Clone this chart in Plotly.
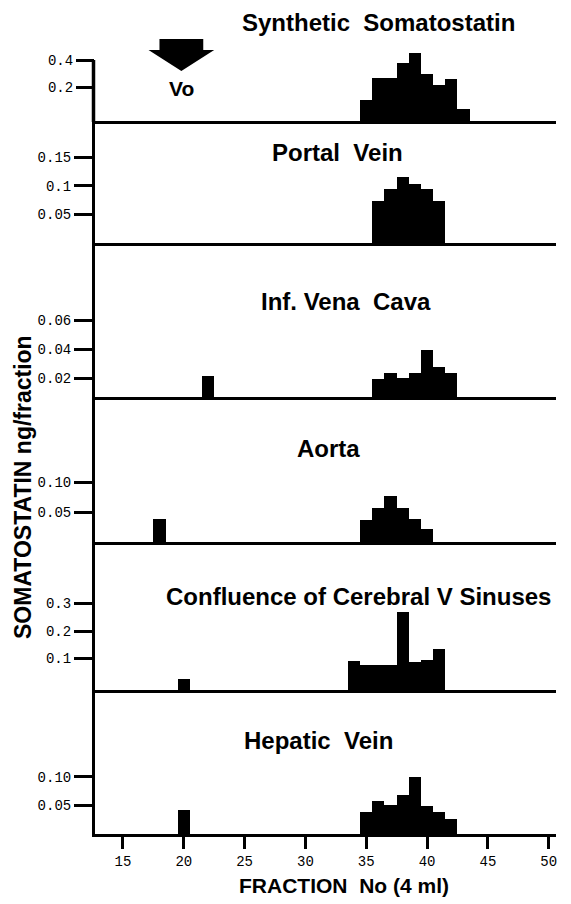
import plotly.graph_objects as go

# The page body adds an 8px margin; the figure is sized to fill the rest of the window.
OFF = 8
W, H = 571 - OFF, 904 - OFF
ML, MR = 95 - OFF, 15

# ---------------- data ----------------
panel_titles = ["Synthetic  Somatostatin", "Portal  Vein", "Inf. Vena  Cava", "Aorta",
                "Confluence of Cerebral V Sinuses", "Hepatic  Vein"]

synth_frac = [35, 36, 37, 38, 39, 40, 41, 42, 43]
synth_vals = [0.107, 0.27, 0.27, 0.38, 0.453, 0.297, 0.217, 0.261, 0.041]

portal_frac = [36, 37, 38, 39, 40, 41]
portal_vals = [0.073, 0.095, 0.115, 0.104, 0.094, 0.073]

ivc_frac = [22, 36, 37, 38, 39, 40, 41, 42]
ivc_vals = [0.0214, 0.0193, 0.0239, 0.0205, 0.0239, 0.0393, 0.0278, 0.0237]

aorta_frac = [18, 35, 36, 37, 38, 39, 40]
aorta_vals = [0.039, 0.037, 0.057, 0.077, 0.057, 0.038, 0.022]

conf_frac = [20, 34, 35, 36, 37, 38, 39, 40, 41]
conf_vals = [0.024, 0.092, 0.076, 0.076, 0.076, 0.27, 0.086, 0.095, 0.135]

hep_frac = [20, 35, 36, 37, 38, 39, 40, 41, 42]
hep_vals = [0.041, 0.038, 0.058, 0.050, 0.068, 0.099, 0.049, 0.037, 0.026]

ytick_vals = [[0.2, 0.4], [0.05, 0.1, 0.15], [0.02, 0.04, 0.06],
              [0.05, 0.10], [0.1, 0.2, 0.3], [0.05, 0.10]]
ytick_text = [["0.2", "0.4"], ["0.05", "0.1", "0.15"], ["0.02", "0.04", "0.06"],
              ["0.05", "0.10"], ["0.1", "0.2", "0.3"], ["0.05", "0.10"]]

xtick_vals = [15, 20, 25, 30, 35, 40, 45, 50]
vo_fraction = 19.8

x_title = "FRACTION  No (4 ml)"
y_title_main = "SOMATOSTATIN"
y_title_unit = "ng/fraction"

series = [(synth_frac, synth_vals), (portal_frac, portal_vals), (ivc_frac, ivc_vals),
          (aorta_frac, aorta_vals), (conf_frac, conf_vals), (hep_frac, hep_vals)]

# ---------------- layout geometry (reference pixel coords) ----------------
panel_px = [(48, 121), (121, 243), (243, 397), (397, 542), (542, 690), (690, 834)]
y_ranges = [(-0.047, 0.488), (0.0, 0.214), (0.0071, 0.1131),
            (0.0, 0.2417), (-0.0145, 0.5236), (-0.001, 0.253)]
x_range = [12.7, 50.6]
PLOT_W = W - ML - MR

def py(px):
    return 1 - (px - OFF) / H

def pxx(px):
    return (px - OFF - ML) / PLOT_W

fig = go.Figure()

for i, ((fr, vals), (ymin, ymax)) in enumerate(zip(series, y_ranges), start=1):
    fig.add_trace(go.Bar(
        x=fr, y=[v - ymin for v in vals], base=ymin, width=1.0,
        marker=dict(color="black", line=dict(width=0)),
        xaxis="x" if i == 1 else f"x{i}", yaxis="y" if i == 1 else f"y{i}",
        showlegend=False, hoverinfo="skip"))

layout = dict(
    width=W, height=H,
    margin=dict(l=ML, r=MR, t=0, b=0),
    paper_bgcolor="white", plot_bgcolor="white",
    bargap=0, showlegend=False,
)

tickfont = dict(family="Liberation Mono", size=14, color="black")
for i in range(1, 7):
    top, bot = panel_px[i - 1]
    xname = "x" if i == 1 else f"x{i}"
    yname = "y" if i == 1 else f"y{i}"
    layout["yaxis" if i == 1 else f"yaxis{i}"] = dict(
        domain=[py(bot), py(top)], range=list(y_ranges[i - 1]),
        tickvals=ytick_vals[i - 1], ticktext=ytick_text[i - 1],
        ticks="outside", ticklen=18, tickwidth=3, tickcolor="black",
        showline=(i > 1), linewidth=3, linecolor="black",
        showgrid=False, zeroline=False, tickfont=tickfont,
        anchor=xname, fixedrange=True)
    xa = dict(
        range=x_range, anchor=yname, showline=True, linewidth=3,
        linecolor="black", showgrid=False, zeroline=False, fixedrange=True)
    if i > 1:
        xa["matches"] = "x"
    if i == 6:
        xa.update(tickvals=xtick_vals, ticks="outside", ticklen=12, tickwidth=3,
                  tickcolor="black", showticklabels=True, tickfont=tickfont)
    else:
        xa.update(showticklabels=False, ticks="")
    layout["xaxis" if i == 1 else f"xaxis{i}"] = xa

fig.update_layout(**layout)

# top panel's vertical axis starts at its highest tick (0.4 sits at ~60px);
# shifted half a line width outward like Plotly's own axis lines
fig.add_shape(type="line", xref="paper", yref="paper", x0=-1.5 / PLOT_W, x1=-1.5 / PLOT_W,
              y0=py(panel_px[0][1] + 1), y1=py(60),
              line=dict(color="black", width=3.5))

title_font = dict(family="Liberation Sans", size=24, color="black")
title_pos = [(378, 22), (337, 152), (346, 301), (328, 448), (358, 596), (318, 740)]
for t, (x, y) in zip(panel_titles, title_pos):
    fig.add_annotation(text=f"<b>{t}</b>", x=pxx(x), y=py(y), xref="paper", yref="paper",
                       showarrow=False, font=title_font, xanchor="center", yanchor="middle")

# Vo arrow
fig.add_shape(type="path", xref="x", yref="paper",
              path=(f"M {vo_fraction-1.8},{py(39)} L {vo_fraction+1.8},{py(39)} "
                    f"L {vo_fraction+1.8},{py(50)} L {vo_fraction+2.7},{py(50)} "
                    f"L {vo_fraction},{py(71)} L {vo_fraction-2.7},{py(50)} "
                    f"L {vo_fraction-1.8},{py(50)} Z"),
              fillcolor="black", line=dict(width=0))
fig.add_annotation(text="<b>Vo</b>", x=vo_fraction, y=py(89), xref="x", yref="paper",
                   showarrow=False, font=dict(family="Liberation Sans", size=21, color="black"),
                   xanchor="center", yanchor="middle")

# axis titles
fig.add_annotation(text=f"<b>{x_title}</b>", x=pxx(344), y=py(885), xref="paper", yref="paper",
                   showarrow=False, font=dict(family="Liberation Sans", size=21, color="black"),
                   xanchor="center", yanchor="middle")
fig.add_annotation(text=f"<b>{y_title_main}</b> <b>{y_title_unit}</b>", x=pxx(23), y=py(487),
                   xref="paper", yref="paper", textangle=-90, showarrow=False,
                   font=dict(family="Liberation Sans", size=23, color="black"),
                   xanchor="center", yanchor="middle")

fig.write_html("out.html")
